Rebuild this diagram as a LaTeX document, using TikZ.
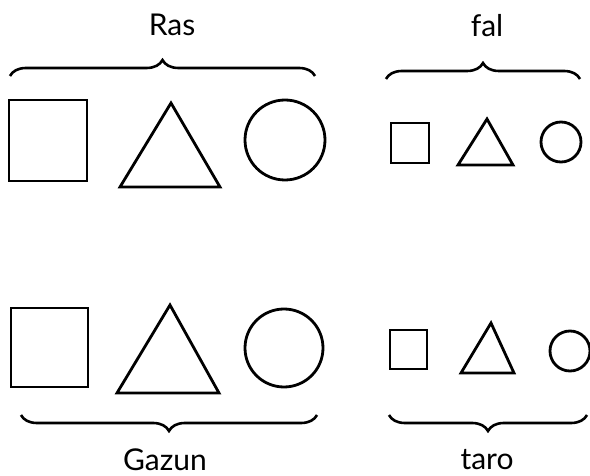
\documentclass[tikz,border=0pt]{standalone}
\usepackage{fontspec}
\setmainfont{Lato}
\usetikzlibrary{decorations.pathreplacing}
\begin{document}
\begin{tikzpicture}[x=1pt,y=-1pt,
  figline/.style={draw=black,line width=2.8pt,line join=miter},
  bracebig/.style={draw=black,line width=2.6pt,decorate,decoration={brace,amplitude=16pt}},
  bracebigm/.style={draw=black,line width=2.6pt,decorate,decoration={brace,amplitude=16pt,mirror}},
  lbl/.style={font=\fontsize{30}{34}\selectfont,inner sep=0pt}]
\useasboundingbox (0,0) rectangle (590,476);
% labels
\node[lbl] (ras) at (172,25) {Ras};
\node[lbl] (fal) at (487,26) {fal};
\node[lbl] (gazun) at (165,460) {Gazun};
\node[lbl] (taro) at (487,460) {taro};
% braces
\coordinate (b1a) at (10,76); \coordinate (b1b) at (315,76);
\coordinate (b2a) at (386,79); \coordinate (b2b) at (580,79);
\coordinate (b3a) at (21,415); \coordinate (b3b) at (317,415);
\coordinate (b4a) at (389,415); \coordinate (b4b) at (587,415);
\draw[bracebig] (b1a) -- (b1b);
\draw[bracebig] (b2a) -- (b2b);
\draw[bracebigm] (b3a) -- (b3b);
\draw[bracebigm] (b4a) -- (b4b);
% top-left
\draw[figline] (9,100) rectangle (87,181);
\draw[figline] (171,103) -- (220,187) -- (120,187) -- cycle;
\draw[figline] (285,140) circle[radius=40];
% top-right
\draw[figline] (391,123) rectangle (429,163);
\draw[figline] (487,119) -- (513,165) -- (458,165) -- cycle;
\draw[figline] (561,142) circle[radius=20];
% bottom-left
\draw[figline] (11,308) rectangle (88,387);
\draw[figline] (170,305) -- (219,393) -- (117,393) -- cycle;
\draw[figline] (284,348) circle[radius=39];
% bottom-right
\draw[figline] (390,330) rectangle (427,369);
\draw[figline] (491,323) -- (514,373) -- (461,373) -- cycle;
\draw[figline] (570,351) circle[radius=20];
\end{tikzpicture}
\end{document}
